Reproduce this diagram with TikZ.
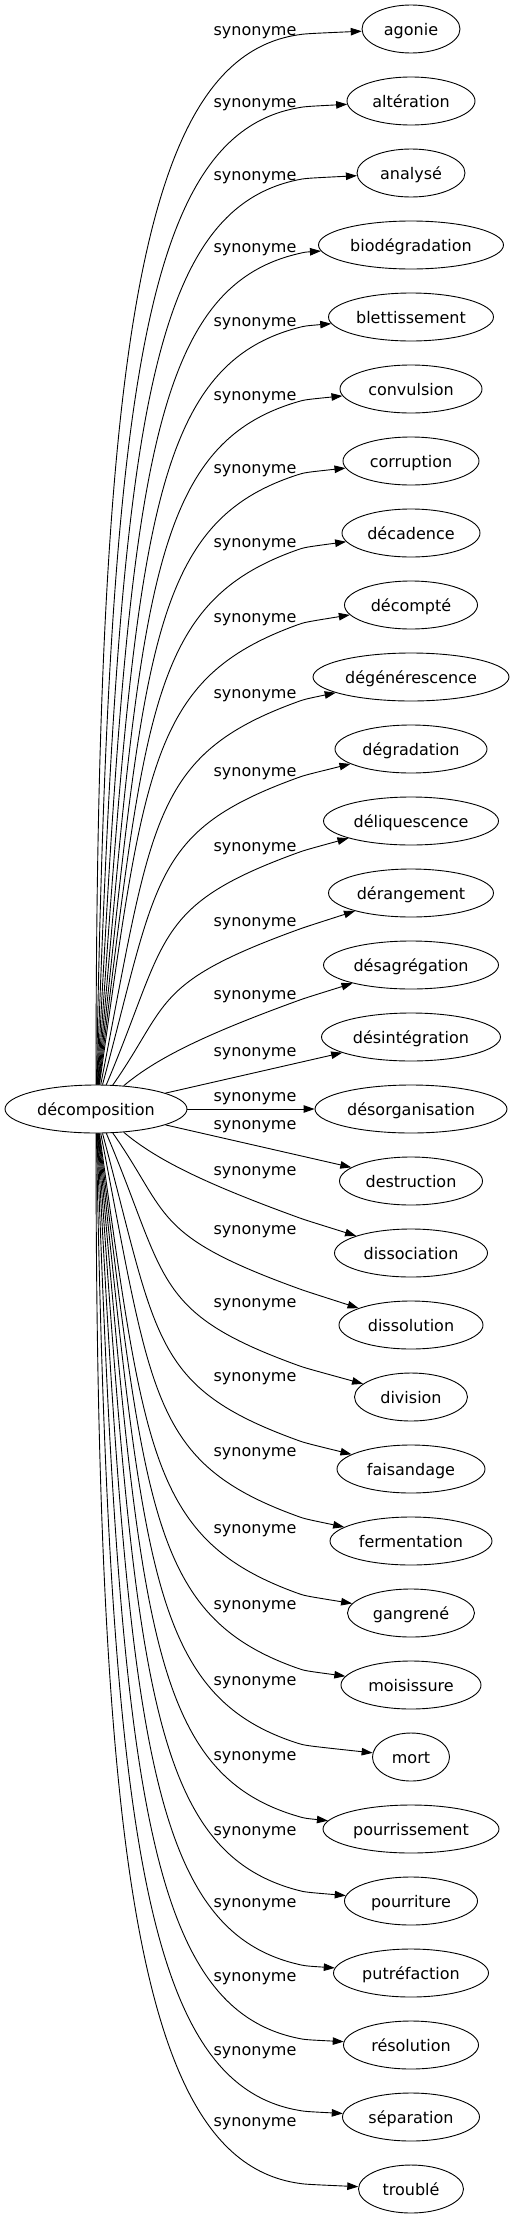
\documentclass[tikz,border=0pt]{standalone}
\usepackage{fontspec}
\setmainfont{DejaVu Sans}
\usetikzlibrary{arrows.meta,shapes.geometric}
\tikzset{
  base/.style={font=\fontsize{16pt}{19pt}\selectfont, text=black},
  tgt/.style={base, draw, ellipse, line width=0.9pt, minimum height=48pt, inner sep=0pt, text height=14pt, text depth=2pt},
  lbl/.style={base, inner sep=0pt},
  edge/.style={draw, line width=0.9pt, -{Triangle[length=11pt,width=7.5pt]}}
}
\begin{document}
\begin{tikzpicture}[x=1pt,y=1pt]
\useasboundingbox (0,0) rectangle (515,-2219);
\node[tgt, minimum width=182pt] (dec) at (96,-1109) {décomposition};
\foreach \i/\t/\w in {0/agonie/98, 1/altération/128, 2/analysé/108, 3/biodégradation/185, 4/blettissement/165, 5/convulsion/142, 6/corruption/136, 7/décadence/138, 8/décompté/133, 9/dégénérescence/196, 10/dégradation/152, 11/déliquescence/175, 12/dérangement/165, 13/désagrégation/175, 14/désintégration/179, 15/désorganisation/192, 16/destruction/143, 17/dissociation/153, 18/dissolution/144, 19/division/113, 20/faisandage/148, 21/fermentation/162, 22/gangrené/127, 23/moisissure/140, 24/mort/77, 25/pourrissement/176, 26/pourriture/133, 27/putréfaction/155, 28/résolution/135, 29/séparation/137, 30/troublé/105}
  \node[tgt, minimum width=\w pt] (t\i) at (411,{-29-72*\i}) {\t};
\foreach \i/\L in {0/32, 1/104, 2/177, 3/249, 4/323, 5/397, 6/470, 7/544, 8/619, 9/695, 10/773, 11/848, 12/923, 13/996, 14/1053, 15/1098, 16/1126, 17/1172, 18/1231, 19/1304, 20/1378, 21/1453, 22/1530, 23/1606, 24/1682, 25/1757, 26/1832, 27/1904, 28/1978, 29/2052, 30/2123}
  \node[lbl] (l\i) at (255,{-\L-1}) {synonyme};
\foreach \i/\th/\yq/\ph in {0/90/35/9, 1/89/108/10.5, 2/88/180/12, 3/87/254/13.5, 4/86/328/15, 5/85/402/16.5, 6/84/475/18, 7/83/550/19.5, 8/82/625/20, 9/79/702/20, 10/75/778/20, 11/67/853/20, 12/55/930/20, 13/40/1001/20} {
  \pgfmathsetmacro\dA{0.72*(1109-\yq)}
  \pgfmathsetmacro\dB{min(155,1.2*(1085-\yq))}
  \pgfmathsetmacro\aT{180+\ph}
  \pgfmathsetmacro\aB{180-\ph}
  \pgfmathsetmacro\thB{-\th}
  \pgfmathsetmacro\phB{-\ph}
  \pgfmathtruncatemacro\j{30-\i}
  \pgfmathsetmacro\yb{2218-\yq}
  \coordinate (q\i) at (297,-\yq);
  \coordinate (q\j) at (297,-\yb);
  \draw[edge] (dec) .. controls +(\th:\dA) and +(\aT:\dB) .. (q\i) .. controls +(\ph:8) .. (t\i);
  \draw[edge] (dec) .. controls +(\thB:\dA) and +(\aB:\dB) .. (q\j) .. controls +(\phB:8) .. (t\j);
}
\draw[edge] (dec) -- (t14);
\draw[edge] (dec) -- (t15);
\draw[edge] (dec) -- (t16);
\end{tikzpicture}
\end{document}
